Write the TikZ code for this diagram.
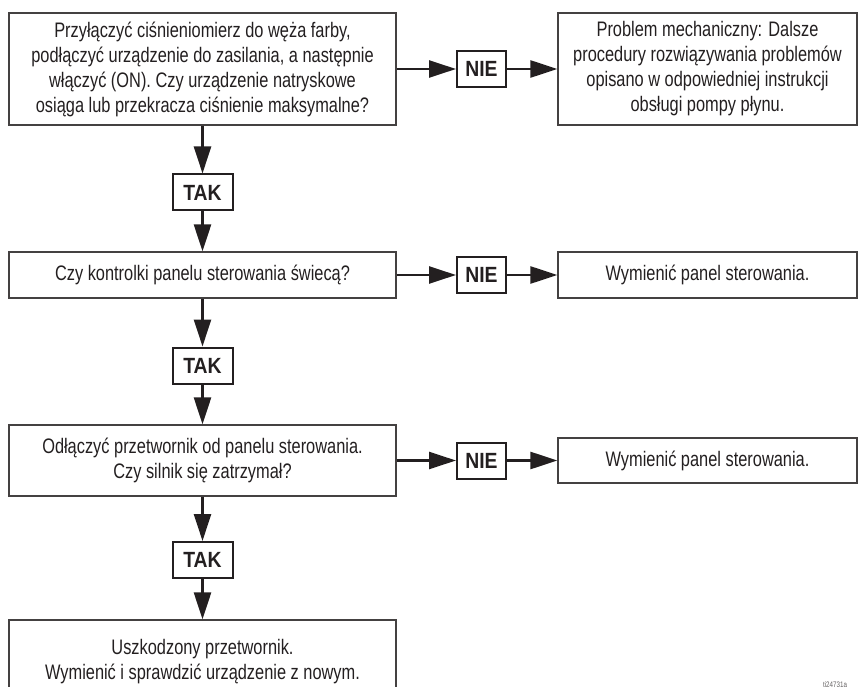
\documentclass[tikz,border=0pt]{standalone}
\usepackage{fontspec}
\setmainfont{Liberation Sans}[FakeStretch=0.78]
\newfontfamily\tagfont{Liberation Sans}[FakeStretch=0.88]
\usetikzlibrary{arrows.meta}
\definecolor{ink}{HTML}{231F20}
\begin{document}
\begin{tikzpicture}[x=1pt,y=-1pt,
  box/.style={draw=ink!85, line width=1.3pt, rectangle, inner sep=0pt,
    font=\fontsize{21}{25}\selectfont, text=ink, align=center},
  leftbox/.style={box, minimum width=387pt},
  rightbox/.style={box, minimum width=299pt},
  tag/.style={draw=ink, line width=2pt, rectangle, inner sep=0pt,
    minimum height=36pt, font=\tagfont\fontsize{22}{25}\selectfont\bfseries, text=ink},
  takbox/.style={tag, minimum width=60pt},
  niebox/.style={tag, minimum width=49pt},
  flow/.style={draw=ink, line width=2.6pt, -{Triangle[length=27pt,width=17pt]}}
]
\useasboundingbox (0,0) rectangle (860,687);

% question column
\node[leftbox, minimum height=112pt] (q1) at (202.5,69)
  {Przyłączyć ciśnieniomierz do węża farby,\\
   podłączyć urządzenie do zasilania, a następnie\\
   włączyć (ON). Czy urządzenie natryskowe\\
   osiąga lub przekracza ciśnienie maksymalne?};
\node[leftbox, minimum height=46pt] (q2) at (202.5,275)
  {Czy kontrolki panelu sterowania świecą?};
\node[leftbox, minimum height=71pt] (q3) at (202.5,460.5)
  {Odłączyć przetwornik od panelu sterowania.\\
   Czy silnik się zatrzymał?};
\node[leftbox, minimum height=84pt] (q4) at (202.5,662)
  {Uszkodzony przetwornik.\\
   Wymienić i sprawdzić urządzenie z nowym.};

% answer column
\node[rightbox, minimum height=112pt] (a1) at (707.5,69)
  {Problem mechaniczny: Dalsze\\
   procedury rozwiązywania problemów\\
   opisano w odpowiedniej instrukcji\\
   obsługi pompy płynu.};
\node[rightbox, minimum height=46pt] (a2) at (707.5,275)
  {Wymienić panel sterowania.};
\node[rightbox, minimum height=45pt] (a3) at (707.5,460.5)
  {Wymienić panel sterowania.};

% yes / no tags
\node[takbox] (t1) at (202.5,192.5) {TAK};
\node[takbox] (t2) at (202.5,365.5) {TAK};
\node[takbox] (t3) at (202.5,560) {TAK};
\node[niebox] (n1) at (481.5,69) {NIE};
\node[niebox] (n2) at (481.5,275) {NIE};
\node[niebox] (n3) at (481.5,460.5) {NIE};

% connectors
\draw[flow] (q1.south) -- (t1.north);
\draw[flow] (t1.south) -- (q2.north);
\draw[flow] (q2.south) -- (t2.north);
\draw[flow] (t2.south) -- (q3.north);
\draw[flow] (q3.south) -- (t3.north);
\draw[flow] (t3.south) -- (q4.north);
\draw[flow] (q1.east) -- (n1.west);
\draw[flow] (n1.east) -- (a1.west);
\draw[flow] (q2.east) -- (n2.west);
\draw[flow] (n2.east) -- (a2.west);
\draw[flow] (q3.east) -- (n3.west);
\draw[flow] (n3.east) -- (a3.west);

% figure reference
\node[anchor=north, inner sep=0pt, font=\fontsize{8}{8}\selectfont, text=ink!70]
  (ref) at (835,681) {ti24731a};
\end{tikzpicture}
\end{document}
